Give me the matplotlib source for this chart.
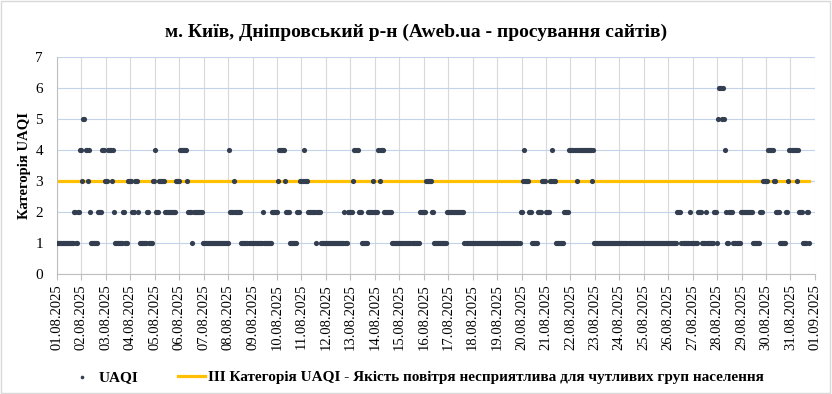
import numpy as np
import pandas as pd
import matplotlib
matplotlib.use("Agg")
import matplotlib.pyplot as plt
import matplotlib.dates as mdates
from matplotlib.patches import Rectangle

plt.rcParams['font.family'] = ['Liberation Serif', 'DejaVu Serif']

# Погодинні значення UAQI, записані як відрізки: година початку -> значення
start_hour = [0, 17, 19, 21, 23, 25, 26, 28, 30, 31, 32, 33, 40, 44, 47, 50, 54, 55, 56, 57,
              65, 67, 70, 74, 77, 80, 81, 88, 90, 94, 96, 97, 100, 106, 117, 121, 128, 129, 133, 134,
              143, 169, 170, 174, 175, 181, 202, 203, 211, 217, 218, 224, 225, 229, 236, 239, 242, 243, 246, 254,
              255, 259, 282, 283, 286, 291, 292, 296, 299, 305, 310, 311, 315, 317, 318, 321, 329, 356, 362, 368,
              370, 383, 400, 455, 457, 458, 459, 463, 466, 472, 476, 480, 484, 486, 487, 490, 498, 503, 510, 511,
              525, 526, 527, 609, 613, 621, 622, 629, 633, 637, 638, 645, 648, 649, 650, 653, 654, 655, 656, 657,
              658, 660, 664, 671, 683, 690, 693, 698, 704, 706, 710, 716, 718, 719, 726, 727, 728, 732, 736, 738]
seg_value = [1, 2, 1, 2, 4, 3, 5, 4, 3, 4, 2, 1, 2, 4, 3, 4, 3, 4, 2, 1,
             2, 1, 3, 2, 3, 2, 1, 2, 1, 3, 4, 2, 3, 2, 3, 4, 3, 2, 1, 2,
             1, 4, 2, 3, 2, 1, 2, 1, 2, 3, 4, 3, 2, 1, 2, 3, 4, 3, 2, 1,
             2, 1, 2, 1, 2, 3, 4, 2, 1, 2, 3, 2, 4, 3, 4, 2, 1, 2, 3, 2,
             1, 2, 1, 2, 3, 4, 3, 2, 1, 2, 3, 2, 3, 4, 3, 1, 2, 4, 3, 4,
             3, 4, 1, 2, 1, 2, 1, 2, 1, 2, 1, 2, 1, 5, 6, 5, 6, 5, 4, 2,
             1, 2, 1, 2, 1, 2, 3, 4, 3, 2, 1, 2, 3, 4, 3, 4, 2, 1, 2, 1]
end_hour = 739

threshold = 3  # III категорія

lengths = np.diff(start_hour + [end_hour])
uaqi = np.repeat(seg_value, lengths)
times = pd.date_range('2025-08-01 00:00', periods=len(uaqi), freq='h')
day_ticks = pd.date_range('2025-08-01', '2025-09-01', freq='D')

fig = plt.figure(figsize=(8.32, 3.94), dpi=100)
ax = fig.add_axes([0.0685, 0.3038, 0.911, 0.5508])

ax.plot(times, np.full(len(uaqi), threshold), color='#ffc000', lw=2.3, zorder=2,
        label='ІІІ Категорія UAQI - Якість повітря несприятлива для чутливих груп населення')
ax.scatter(times, uaqi, s=14, color='#333f50', lw=0, zorder=3, label='UAQI')

ax.set_xlim(day_ticks[0], day_ticks[-1])
ax.set_ylim(0, 7)
ax.set_yticks(range(0, 8))
ax.set_xticks(day_ticks)
ax.xaxis.set_major_formatter(mdates.DateFormatter('%d.%m.%Y'))
ax.tick_params(axis='x', rotation=90, labelsize=10.5, length=4, color='#bfbfbf', pad=3)
ax.tick_params(axis='y', labelsize=11, length=0, pad=10)

ax.grid(axis='x', color='#d9d9d9', lw=0.8)
ax.grid(axis='y', color='#c5d3ea', lw=0.8)
ax.set_axisbelow(True)
for s in ['top', 'right']:
    ax.spines[s].set_visible(False)
for s in ['left', 'bottom']:
    ax.spines[s].set_color('#bfbfbf')

ax.set_ylabel('Категорія UAQI', fontsize=10.5, fontweight='bold', labelpad=3)
fig.suptitle('м. Київ, Дніпровський р-н (Aweb.ua - просування сайтів)',
             fontsize=14, fontweight='bold', y=0.94)

h, l = ax.get_legend_handles_labels()
fig.legend(h[::-1], l[::-1], loc='lower center', bbox_to_anchor=(0.5, -0.01), ncol=2,
           frameon=False, prop={'weight': 'bold', 'size': 11}, markerscale=0.7,
           handlelength=1.8, columnspacing=2.6, handletextpad=0.15)

fig.patches.append(Rectangle((0.001, 0.002), 0.997, 0.995, transform=fig.transFigure,
                             fill=False, edgecolor='#d9d9d9', lw=1))

plt.savefig('out.png', dpi=100)
